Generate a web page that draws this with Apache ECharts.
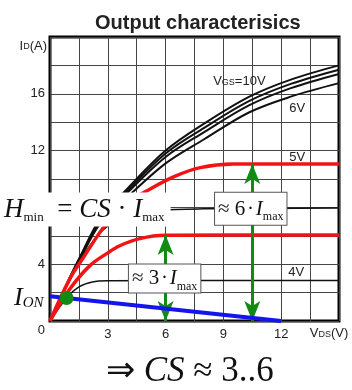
<!DOCTYPE html>
<html>
<head>
<meta charset="utf-8">
<script src="https://cdn.jsdelivr.net/npm/echarts@6/dist/echarts.min.js"></script>
<style>
  html, body { margin: 0; padding: 0; background: #fff; }
  #chart { width: 352px; height: 390px; }
</style>
</head>
<body>
<div id="chart"></div>
<script>
// Output characteristics: drain current I_D (A) versus drain voltage V_DS (V)
// Each curve is a list of [V_DS, I_D] points.
const curve10V = [[0,0],[1.0,3.0],[1.55,4.5],[2.6,7.2],[4,9.3],[6,12.0],[8,13.9],[10.35,15.8],[12.5,17.0],[15,18.0]];
const curve8V  = [[0,0],[1.0,2.95],[1.55,4.45],[2.6,7.1],[4,9.15],[6,11.8],[8,13.6],[10.35,15.5],[12.5,16.7],[15,17.7]];
const curve7V  = [[0,0],[1.0,2.9],[1.55,4.4],[2.6,7.0],[4,9.0],[6,11.55],[8,13.3],[10.35,15.2],[12.5,16.4],[15,17.4]];
const curve6V  = [[0,0],[1.0,2.85],[1.55,4.3],[2.6,6.85],[4,8.7],[6,11.1],[8,12.8],[10.35,14.7],[12.5,15.8],[15,16.75]];
const curve5V  = [[0,0],[1.0,2.9],[1.7,4.4],[2.95,6.9],[4,8.3],[5.2,9.3],[6.5,10.2],[7.8,10.8],[9.5,11.05],[15,11.06]];
const curve45V = [[0,0],[1.55,4.2],[2.6,6.2],[3.5,7.1],[4.5,7.6],[5.7,7.82],[8,7.9],[15,7.95]];
const curveMid = [[0,0],[1.0,2.2],[2.07,3.9],[3.0,4.8],[3.62,5.3],[4.66,5.8],[6,6.03],[15,6.06]];
const curve4V  = [[0,0],[0.86,1.62],[1.5,2.4],[2.2,2.75],[3,2.83],[15,2.85]];

// Load line and its operating point
const loadLine = [[0,1.75],[12,0]];
const onPoint = [[0.86,1.62]];

// Current spans marked with arrows: [V_DS, I_D top]
const spans = [[6,6.06],[10.5,11.06]];

// Tick label values
const xTickLabels = [3,6,9,12];
const yTickLabels = [0,4,8,12,16];

const SANS = "'Liberation Sans', Arial, sans-serif";
const SERIF = "'Liberation Serif', 'Times New Roman', serif";
const RED = '#f21414';
const GREEN = '#138a13';
const BLUE = '#1414ee';
const INK = '#111';

const chart = echarts.init(document.getElementById('chart'), null, { renderer: 'canvas' });

const serifRich = {
  n: { fontFamily: SERIF, fontSize: 21, color: INK, lineHeight: 27 },
  i: { fontFamily: SERIF, fontSize: 21, fontStyle: 'italic', color: INK, lineHeight: 27 },
  s: { fontFamily: SERIF, fontSize: 12, color: INK, verticalAlign: 'bottom', lineHeight: 12 }
};

const hRich = {
  n: { fontFamily: SERIF, fontSize: 27, color: INK, lineHeight: 30 },
  i: { fontFamily: SERIF, fontSize: 27, fontStyle: 'italic', color: INK, lineHeight: 30 },
  s: { fontFamily: SERIF, fontSize: 13, color: INK, verticalAlign: 'bottom', lineHeight: 13 }
};

function blackLine(name, data, width) {
  return {
    name, type: 'line', data, smooth: 0.35, showSymbol: false, z: 2,
    lineStyle: { color: INK, width }, silent: true
  };
}

function arrow(span) {
  return [
    { coord: [span[0], span[1]] },
    { coord: [span[0], 0] }
  ];
}

const option = {
  animation: false,
  backgroundColor: '#fff',
  title: [
    {
      text: 'Output characterisics',
      left: 90, top: 8,
      textStyle: { fontFamily: SANS, fontWeight: 'bold', fontSize: 20, color: '#222' }
    },
    {
      text: '{a|\u21D2 }{i|CS}{a| \u2248 3..6}',
      left: 101, top: 349,
      textStyle: {
        fontWeight: 'normal',
        rich: {
          a: { fontFamily: SERIF, fontSize: 35, fontWeight: 'normal', color: INK },
          i: { fontFamily: SERIF, fontSize: 35, fontWeight: 'normal', fontStyle: 'italic', color: INK }
        }
      }
    }
  ],
  grid: {
    left: 50, top: 37, right: 13, bottom: 69,
    show: true, borderColor: '#000', borderWidth: 3, backgroundColor: 'transparent'
  },
  xAxis: {
    type: 'value', min: 0, max: 15, interval: 1.5,
    name: 'V{s|DS}(V)',
    nameLocation: 'end', nameGap: -10,
    nameTextStyle: {
      fontFamily: SANS, fontSize: 13, color: '#222', align: 'center', verticalAlign: 'top',
      padding: [6, 0, 0, 0],
      rich: { s: { fontFamily: SANS, fontSize: 9, color: '#222', verticalAlign: 'bottom', padding: [0, 0, 1, 0] } }
    },
    axisLine: { show: false }, axisTick: { show: false },
    splitLine: { show: true, lineStyle: { color: '#444', width: 1 } },
    axisLabel: {
      margin: 7, fontFamily: SANS, fontSize: 13, color: '#222',
      formatter: v => xTickLabels.includes(Math.round(v * 100) / 100) ? String(v) : ''
    }
  },
  yAxis: {
    type: 'value', min: 0, max: 20, interval: 2,
    name: 'I{s|D}(A)',
    nameLocation: 'end', nameGap: -9,
    nameTextStyle: {
      fontFamily: SANS, fontSize: 13, color: '#222', align: 'right', verticalAlign: 'middle',
      padding: [0, 3, 0, 0],
      rich: { s: { fontFamily: SANS, fontSize: 9, color: '#222', verticalAlign: 'bottom', padding: [0, 0, 1, 0] } }
    },
    axisLine: { show: false }, axisTick: { show: false },
    splitLine: { show: true, lineStyle: { color: '#444', width: 1 } },
    axisLabel: {
      margin: 5, fontFamily: SANS, fontSize: 13, color: '#222',
      formatter: v => {
        if (!yTickLabels.includes(v)) return '';
        return v === 0 ? '{z|0}' : String(v);
      },
      rich: { z: { fontFamily: SANS, fontSize: 13, color: '#222', padding: [18, 0, 0, 0] } }
    }
  },
  series: [
    blackLine('10V', curve10V, 2),
    blackLine('8V', curve8V, 2),
    blackLine('7V', curve7V, 2),
    blackLine('6V', curve6V, 2),
    blackLine('4.5V', curve45V, 1.5),
    blackLine('4V', curve4V, 1.5),
    {
      name: '5V', type: 'line', data: curve5V, smooth: 0.35, showSymbol: false, z: 3,
      lineStyle: { color: RED, width: 3.5 }, silent: true
    },
    {
      name: 'mid', type: 'line', data: curveMid, smooth: 0.35, showSymbol: false, z: 3,
      lineStyle: { color: RED, width: 3.5 }, silent: true,
      markLine: {
        silent: true, symbol: ['arrow', 'arrow'], symbolSize: [12, 20], z: 4,
        lineStyle: { color: GREEN, width: 3, type: 'solid', opacity: 1 },
        itemStyle: { color: GREEN },
        label: { show: false },
        data: spans.map(arrow)
      }
    },
    {
      name: 'load', type: 'line', data: loadLine, showSymbol: false, z: 4,
      lineStyle: { color: BLUE, width: 4 }, silent: true
    },
    {
      name: 'ION', type: 'scatter', data: onPoint, symbolSize: 14, z: 6,
      itemStyle: { color: GREEN, opacity: 1 },
      label: {
        show: true, position: 'left', distance: 16, opacity: 1,
        formatter: '{i|I}{s|ON}',
        rich: {
          i: { fontFamily: SERIF, fontSize: 26, fontStyle: 'italic', color: INK, lineHeight: 26, verticalAlign: 'top' },
          s: { fontFamily: SERIF, fontSize: 15, fontStyle: 'italic', color: INK, lineHeight: 15, verticalAlign: 'bottom' }
        }
      }
    },
    {
      // formula boxes placed in data space
      name: 'notes', type: 'scatter', symbolSize: 0, z: 10, silent: true,
      itemStyle: { opacity: 1 },
      data: [
        { value: [1.78, 7.85], label: {
            formatter: '{i|H}{s|min}{n|  = }{i|CS}{n| \u00B7 }{i|I}{s|max}',
            backgroundColor: '#fff', padding: [2, 6, 2, 6], rich: hRich } },
        { value: [5.95, 3.0], label: {
            formatter: '{n|\u2248 3\u200A\u00B7\u200A}{i|I}{s|max}',
            backgroundColor: '#fff', borderColor: '#555', borderWidth: 1, padding: [1, 3, 0, 3], rich: serifRich } },
        { value: [10.42, 7.9], label: {
            formatter: '{n|\u2248 6\u200A\u00B7\u200A}{i|I}{s|max}',
            backgroundColor: '#fff', borderColor: '#555', borderWidth: 1, padding: [3, 3, 2, 3], rich: serifRich } }
      ],
      label: { show: true, position: 'inside', opacity: 1, color: INK }
    },
    {
      // gate voltage tags next to the curves
      name: 'tags', type: 'scatter', symbolSize: 0, z: 7, silent: true,
      itemStyle: { opacity: 1 },
      data: [
        { value: [9.83, 16.9], label: { formatter: 'V{s|GS}=10V' } },
        { value: [12.83, 15.0], label: { formatter: '6V' } },
        { value: [12.83, 11.55], label: { formatter: '5V' } },
        { value: [12.78, 3.45], label: { formatter: '4V' } }
      ],
      label: {
        show: true, position: 'inside', opacity: 1, fontFamily: SANS, fontSize: 13, color: '#222',
        rich: { s: { fontFamily: SANS, fontSize: 9, color: '#222', verticalAlign: 'bottom', padding: [0, 0, 1, 0] } }
      }
    }
  ]
};

chart.setOption(option);
</script>
</body>
</html>
